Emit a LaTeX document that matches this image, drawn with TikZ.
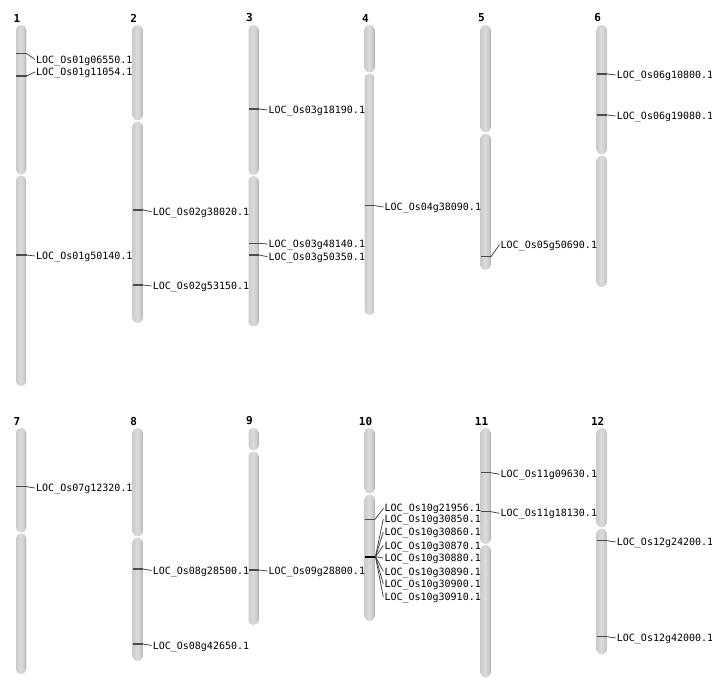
\documentclass[tikz,border=0pt]{standalone}
\usepackage{fontspec}
\setmonofont{DejaVu Sans Mono}
\newfontfamily\numfont{DejaVu Sans Mono}
\usetikzlibrary{calc}
\definecolor{cA}{gray}{0.80}
\definecolor{cB}{gray}{0.86}
\definecolor{cC}{gray}{0.70}
\definecolor{cD}{gray}{0.42}
\pgfdeclarehorizontalshading{chrom}{100bp}{color(0bp)=(cA); color(25bp)=(cA); color(48bp)=(cB); color(66bp)=(cA); color(71bp)=(cC); color(74bp)=(cD); color(100bp)=(cD)}
\tikzset{
  arm/.style={shading=chrom, rounded corners=4.6pt},
  marker/.style={draw=black!70, line width=1.4pt},
  bigmarker/.style={draw=black, line width=2.3pt},
  conn/.style={draw=black!75, line width=0.75pt},
  lab/.style={anchor=west, inner sep=0pt, text height=7.3pt, text depth=0pt, font=\ttfamily\fontsize{10pt}{11pt}\selectfont},
  chrnum/.style={inner sep=0pt, font=\numfont\bfseries\fontsize{11pt}{12pt}\selectfont}
}
% chromosome: id, cx, top, centromere, bottom
\newcommand\chrom[5]{%
  \path[arm] ({#2-5},#3) rectangle ({#2+5},{#4-0.6});
  \path[arm] ({#2-5},{#4+0.6}) rectangle ({#2+5},#5);
  \node[chrnum] (n#1) at ({#2-4},{#3-7}) {#1};
}
% gene: id, cx, marker y, label y, text
\newcommand\gene[5]{%
  \coordinate (a#1) at ({#2-5},#3);
  \coordinate (m#1) at ({#2+5.5},#3);
  \draw[marker] (a#1) -- (m#1);
  \node[lab] (l#1) at ({#2+15},#4) {#5};
  \draw[conn] (m#1) -- ($(l#1.west)+(-1,0)$);
}
\begin{document}
\begin{tikzpicture}[x=1pt,y=-1pt]
\useasboundingbox (0,0) rectangle (712,700);
\fill[white] (0,0) rectangle (712,700);
% row 1
\chrom{1}{21}{25}{175}{386}
\chrom{2}{137.6}{25}{121}{323}
\chrom{3}{253.5}{25}{175.5}{326.5}
\chrom{4}{369.5}{25}{73}{315}
\chrom{5}{485.5}{25}{133}{270}
\chrom{6}{601.7}{25}{155}{287}
% row 2
\chrom{7}{21}{428}{533}{674}
\chrom{8}{137.6}{428}{537}{661}
\chrom{9}{253.5}{428}{451}{625}
\chrom{10}{369.5}{428}{494}{621}
\chrom{11}{485.5}{428}{544.5}{677.5}
\chrom{12}{601.7}{428}{528}{654.5}
% genes
\gene{g1a}{21}{53.5}{59.5}{LOC\_Os01g06550.1}
\gene{g1b}{21}{76}{72}{LOC\_Os01g11054.1}
\gene{g1c}{21}{255}{256}{LOC\_Os01g50140.1}
\gene{g2a}{137.6}{210}{211.7}{LOC\_Os02g38020.1}
\gene{g2b}{137.6}{285}{286}{LOC\_Os02g53150.1}
\gene{g3a}{253.5}{109}{110}{LOC\_Os03g18190.1}
\gene{g3b}{253.5}{243.3}{244}{LOC\_Os03g48140.1}
\gene{g3c}{253.5}{255}{256.7}{LOC\_Os03g50350.1}
\gene{g4a}{369.5}{205.7}{207}{LOC\_Os04g38090.1}
\gene{g5a}{485.5}{256.7}{244.5}{LOC\_Os05g50690.1}
\gene{g6a}{601.7}{74}{75}{LOC\_Os06g10800.1}
\gene{g6b}{601.7}{115}{116}{LOC\_Os06g19080.1}
\gene{g7a}{21}{486.7}{488}{LOC\_Os07g12320.1}
\gene{g8a}{137.6}{569}{570.5}{LOC\_Os08g28500.1}
\gene{g8b}{137.6}{644}{645.5}{LOC\_Os08g42650.1}
\gene{g9a}{253.5}{570}{571}{LOC\_Os09g28800.1}
\gene{g10a}{369.5}{519.3}{508.3}{LOC\_Os10g21956.1}
\gene{g11a}{485.5}{472.7}{474.3}{LOC\_Os11g09630.1}
\gene{g11b}{485.5}{511.7}{513.3}{LOC\_Os11g18130.1}
\gene{g12a}{601.7}{540.7}{542}{LOC\_Os12g24200.1}
\gene{g12b}{601.7}{636.7}{638}{LOC\_Os12g42000.1}
% chromosome 10 cluster
\coordinate (c10a) at (364.5,556.7);
\coordinate (c10m) at (375.5,556.7);
\draw[bigmarker] (c10a) -- (c10m);
\foreach \i/\t/\y in {1/30850/519,2/30860/532.2,3/30870/545.4,4/30880/558,5/30890/571.4,6/30900/584.2,7/30910/597} {
  \node[lab] (lc\i) at (384.3,\y) {LOC\_Os10g\t.1};
  \draw[conn] (c10m) -- ($(lc\i.west)+(-1,0)$);
}
\end{tikzpicture}
\end{document}
